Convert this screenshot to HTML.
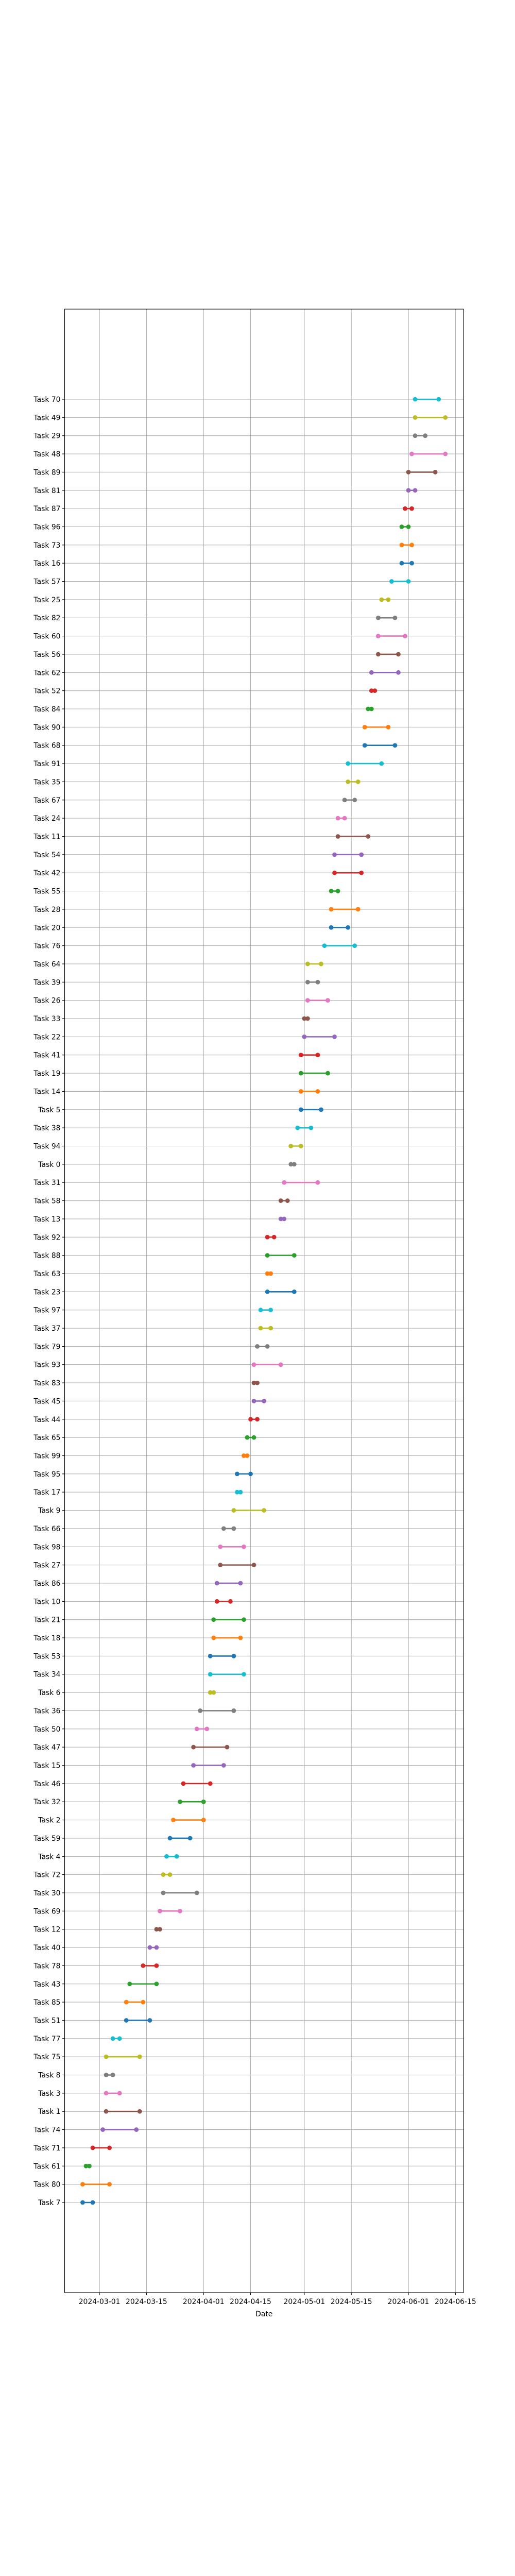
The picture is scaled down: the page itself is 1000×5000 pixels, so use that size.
<!DOCTYPE html>
<html><head><meta charset="utf-8"><style>
html,body{margin:0;padding:0;background:#fff;}
svg{display:block;font-family:"DejaVu Sans","Liberation Sans",sans-serif;}
</style></head><body>
<svg id="chart" width="1000" height="5000" viewBox="0 0 1000 5000" xmlns="http://www.w3.org/2000/svg">
<rect width="1000" height="5000" fill="#fff"/>
<g id="grid"></g>
<g id="marks"></g>
<rect x="125.5" y="600" width="774.5" height="3850" fill="none" stroke="#000" stroke-width="1.1"/>
<g id="axes"></g>
<text x="512.75" y="4496" font-size="13.9" text-anchor="middle">Date</text>
</svg>
<script>
// Tasks from bottom row to top row
const taskNames = [7,80,61,71,74,1,3,8,75,77,51,85,43,78,40,12,69,30,72,4,59,2,32,46,15,47,50,36,6,34,53,18,21,10,86,27,98,66,9,17,95,99,65,44,45,83,93,79,37,97,23,63,88,92,13,58,31,0,94,38,5,14,19,41,22,33,26,39,64,76,20,28,55,42,54,11,24,67,35,91,68,90,84,52,62,56,60,82,25,57,16,73,96,87,81,89,48,29,49,70];
// start / end as day offsets from 2024-03-01
const startDays = [-5,-5,-4,-2,1,2,2,2,2,4,8,8,9,13,15,17,18,19,19,20,21,22,24,25,28,28,29,30,33,33,33,34,34,35,35,36,36,37,40,41,41,43,44,45,46,46,46,47,48,48,50,50,50,50,54,54,55,57,57,59,60,60,60,60,61,61,62,62,62,67,69,69,69,70,70,71,71,73,74,74,79,79,80,81,81,83,83,83,84,87,90,90,90,91,92,92,93,94,94,94];
const endDays = [-2,3,-3,3,11,12,6,4,12,6,15,13,17,17,17,18,24,29,21,23,27,31,31,33,37,38,32,40,34,43,40,42,43,39,42,46,43,40,49,42,45,44,46,47,49,47,54,50,51,51,58,51,58,52,55,56,65,58,60,63,66,65,68,65,70,62,68,65,66,76,74,77,71,78,78,80,73,76,77,84,88,86,81,82,89,89,91,88,86,92,93,93,92,93,94,100,103,97,103,101];
const tickLabels = ["2024-03-01","2024-03-15","2024-04-01","2024-04-15","2024-05-01","2024-05-15","2024-06-01","2024-06-15"];
const tickDays = [0,14,31,45,61,75,92,106];

const palette = ["#1f77b4","#ff7f0e","#2ca02c","#d62728","#9467bd","#8c564b","#e377c2","#7f7f7f","#bcbd22","#17becf"];
const L=125.5,R=900,T=600,B=4450;
const xMin=-10.36,xMax=108.4,yMin=-4.95,yMax=103.95;
const xs=d=>L+(d-xMin)/(xMax-xMin)*(R-L);
const ys=i=>B-(i-yMin)/(yMax-yMin)*(B-T);
const NS="http://www.w3.org/2000/svg";
function mk(tag,attrs,parent){const e=document.createElementNS(NS,tag);for(const k in attrs)e.setAttribute(k,attrs[k]);parent.appendChild(e);return e;}
const grid=document.getElementById('grid'),marks=document.getElementById('marks'),axes=document.getElementById('axes');

tickDays.forEach((d,k)=>{
  const x=xs(d);
  const gl=mk('line',{x1:x,x2:x,y1:T,y2:B,stroke:'#b0b0b0','stroke-width':1.1},grid);
  
  
  const tk=mk('line',{x1:x,x2:x,y1:B,y2:B+4.9,stroke:'#000','stroke-width':1.1},axes);
  
  
  const tl=mk('text',{x:x,y:B+22,'font-size':13.9,'text-anchor':'middle'},axes);
  tl.textContent=tickLabels[k];
  
  
});

taskNames.forEach((n,i)=>{
  const y=ys(i);
  const gl=mk('line',{x1:L,x2:R,y1:y,y2:y,stroke:'#b0b0b0','stroke-width':1.1},grid);
  
  
  const tk=mk('line',{x1:L-4.9,x2:L,y1:y,y2:y,stroke:'#000','stroke-width':1.1},axes);
  
  
  const tl=mk('text',{x:L-8,y:y+5,'font-size':13.9,'text-anchor':'end'},axes);
  tl.textContent='Task '+n;
  
  
  const c=palette[i%10];
  const g=mk('g',{},marks);
  
  
  const x1=xs(startDays[i]),x2=xs(endDays[i]);
  mk('line',{x1:x1,x2:x2,y1:y,y2:y,stroke:c,'stroke-width':2.6},g);
  const s=mk('circle',{cx:x1,cy:y,r:4.4,fill:c},g);
  
  
  const e=mk('circle',{cx:x2,cy:y,r:4.4,fill:c},g);
  
  
});
</script>
</body></html>
